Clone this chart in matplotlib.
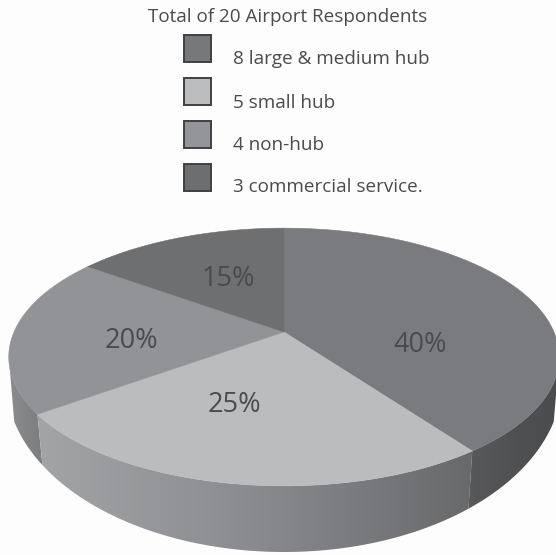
import numpy as np
import matplotlib
matplotlib.use('Agg')
import matplotlib.pyplot as plt
from matplotlib.patches import Polygon, Rectangle

# chart data
title = 'Total of 20 Airport Respondents'
legend_labels = ['8 large & medium hub', '5 small hub', '4 non-hub', '3 commercial service.']
shares = [40, 25, 20, 15]
pct_labels = ['40%', '25%', '20%', '15%']

top_colors = ['#7a7b7e', '#bbbcbe', '#929396', '#6e6f71']
legend_colors = ['#77787a', '#bcbdbf', '#939598', '#6d6e70']
text_color = '#4a4b4d'
bg = '#fdfdfd'

# pie is a tilted disc, the far side looks smaller
CX, CY = 284, 332
A, B, K = 270, 124, 0.194


def rim(theta):
    s, c = np.sin(theta), np.cos(theta)
    w = 1 + K * c
    return CX + A * s / w, CY - B * c / w


def bottom_rim(theta):
    # lower edge of the side wall, its own flatter ellipse
    x, _ = rim(theta)
    dx = 0.98 * (x - CX)
    return CX + dx, 380 + 172 * np.sqrt(1 - (dx / 278) ** 2)


def side_face(ax, t0, t1, stops):
    # gradient across x, clipped to the outline of the face
    t = np.linspace(t0, t1, 120)
    xa, ya = rim(t)
    xb, yb = bottom_rim(t[::-1])
    poly = Polygon(np.column_stack([np.r_[xa, xb], np.r_[ya, yb]]), closed=True,
                   fc='none', ec='none', transform=ax.transData)
    ax.add_patch(poly)
    x0, x1 = min(xa.min(), xb.min()), max(xa.max(), xb.max())
    cmap = matplotlib.colors.LinearSegmentedColormap.from_list('side', stops)
    im = ax.imshow(np.linspace(0, 1, 256).reshape(1, -1), cmap=cmap, aspect='auto',
                   extent=(x0, x1, 560, 300), zorder=1)
    im.set_clip_path(poly)


fig = plt.figure(figsize=(5.56, 5.55), dpi=100, facecolor=bg)
ax = fig.add_axes([0, 0, 1, 1])
ax.set_facecolor(bg)

edges = np.radians(np.cumsum([0] + shares) * 3.6)

side_face(ax, edges[2], np.radians(259), ['#8b8c8e', '#7c7d7f'])
side_face(ax, edges[1], edges[2], ['#a2a4a6', '#8a8b8e', '#68696b'])
side_face(ax, np.radians(101), edges[1], ['#4a4b4d', '#505153', '#59595b'][::-1])

for i in range(len(shares)):
    t = np.linspace(edges[i], edges[i + 1], 150)
    x, y = rim(t)
    ax.add_patch(Polygon(np.column_stack([np.r_[CX, x], np.r_[CY, y]]), closed=True,
                         fc=top_colors[i], ec=top_colors[i], lw=0.4, zorder=2))

label_xy = [(420, 344.5), (234, 405), (131, 341), (228, 278.5)]
for lab, (lx, ly) in zip(pct_labels, label_xy):
    ax.text(lx, ly, lab, ha='center', va='center', fontsize=19.5, color=text_color,
            family='Open Sans', zorder=3)

ax.text(288, 16.5, title, ha='center', va='center', fontsize=13.6, color=text_color,
        family='Open Sans')

box_y = [35, 77.5, 121, 164]
text_y = [59.5, 102.5, 145.5, 187.5]
for i in range(4):
    ax.add_patch(Rectangle((183.5, box_y[i]), 27, 27, fc=legend_colors[i], ec='#3f4042', lw=1.4))
    ax.text(233, text_y[i], legend_labels[i], ha='left', va='center', fontsize=13.6,
            color=text_color, family='Open Sans')

ax.set_xlim(0, 556)
ax.set_ylim(555, 0)
ax.axis('off')
fig.savefig('out.png', dpi=100, facecolor=bg)
